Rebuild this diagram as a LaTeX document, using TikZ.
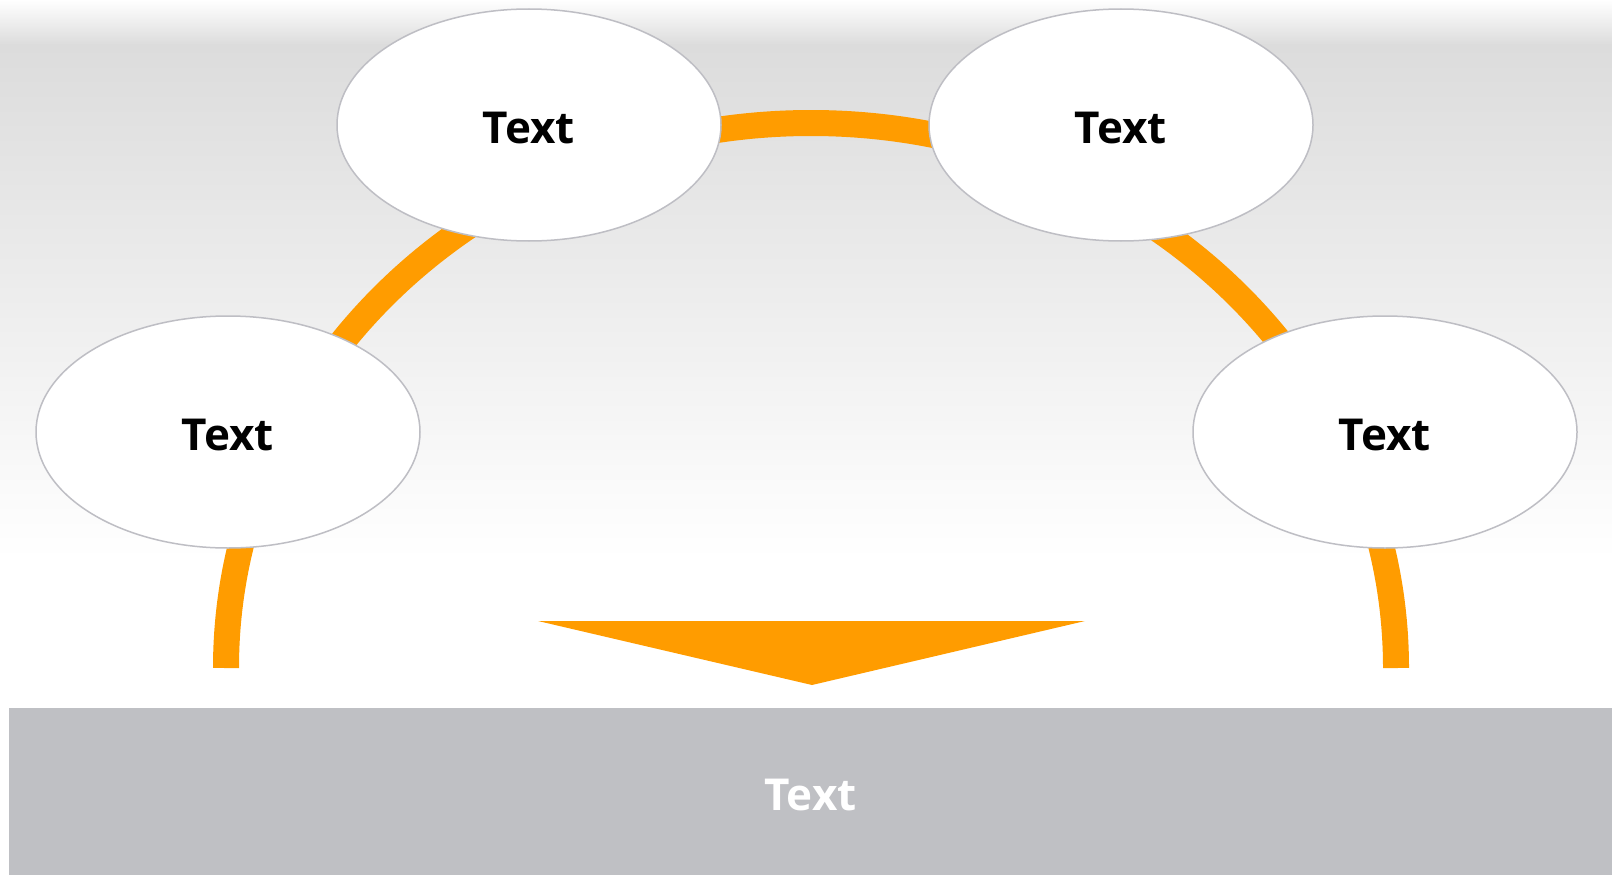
\documentclass[tikz,border=0pt]{standalone}
\usepackage{fontspec}
\setsansfont{Open Sans}
\usepackage{xcolor}
\usetikzlibrary{shapes.geometric,backgrounds}

\definecolor{arcorange}{HTML}{FF9C00}
\definecolor{ovalline}{HTML}{BEBEC4}
\definecolor{bargray}{HTML}{BFC0C4}
\definecolor{bggray}{HTML}{DCDCDC}

\begin{document}
\begin{tikzpicture}[
    x=1pt, y=-1pt,
    font=\sffamily\bfseries\fontsize{44}{50}\selectfont,
    oval/.style={
      ellipse, draw=ovalline, line width=1.5pt, fill=white,
      minimum width=384pt, minimum height=232pt,
      inner sep=0pt, text=black, text height=36pt, text depth=0pt
    },
    band/.style={arcorange, line width=26pt},
    pointer/.style={fill=arcorange, draw=none},
    bar/.style={
      rectangle, fill=bargray, draw=none,
      minimum width=1603pt, minimum height=167pt,
      inner sep=0pt, text=white, text height=37pt, text depth=0pt
    },
  ]
  \useasboundingbox (0,0) rectangle (1612,875);

  %% ── Background ───────────────────────────────────────────
  \begin{scope}[on background layer]
    \fill[top color=white, bottom color=bggray] (0,0) rectangle (1612,45);
    \fill[top color=bggray, bottom color=white] (0,45) rectangle (1612,560);
  \end{scope}

  %% ── Ovals ────────────────────────────────────────────────
  \coordinate (hub) at (811,668);
  \node[oval] (ovalA) at (228,432)  {Text};
  \node[oval] (ovalB) at (529,125)  {Text};
  \node[oval] (ovalC) at (1121,125) {Text};
  \node[oval] (ovalD) at (1385,432) {Text};

  %% ── Band behind the ovals ────────────────────────────────
  \begin{scope}[on background layer]
    \draw[band] (hub) ++(-585,0) arc[start angle=180, end angle=360, x radius=585, y radius=545];
  \end{scope}

  %% ── Pointer and bar ──────────────────────────────────────
  \node[bar] (result) at (810.5,791.5) {Text};
  \coordinate (tipL) at (538,621);
  \coordinate (tipR) at (1085,621);
  \coordinate (tipM) at (812,685);
  \fill[pointer] (tipL) -- (tipR) -- (tipM) -- cycle;

\end{tikzpicture}
\end{document}
